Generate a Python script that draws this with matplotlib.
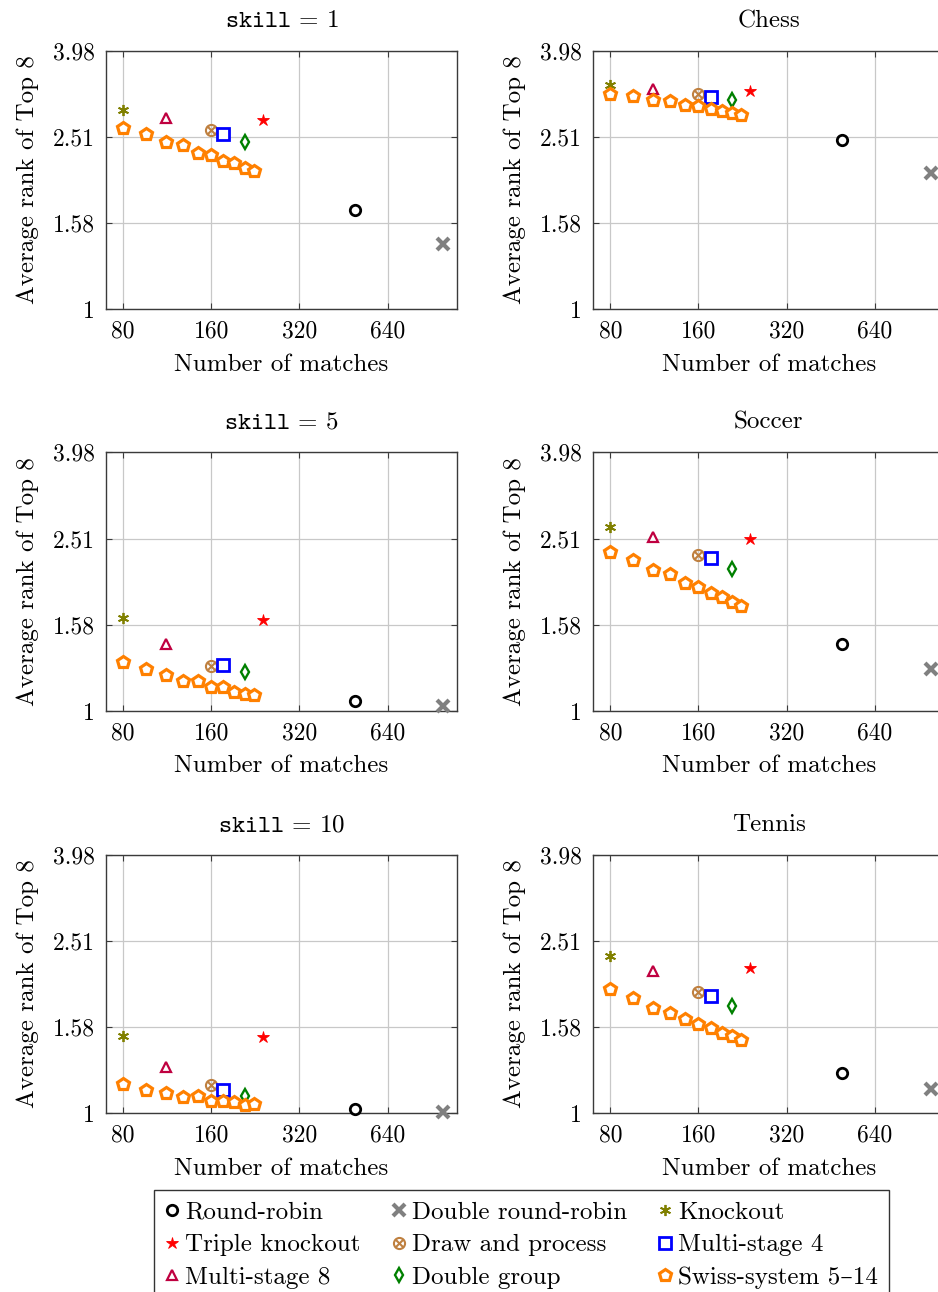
import matplotlib
matplotlib.use("Agg")
import matplotlib.pyplot as plt
from matplotlib.path import Path
import numpy as np

plt.rcParams['font.family'] = ['cmr10', 'DejaVu Serif']
plt.rcParams['mathtext.fontset'] = 'cm'
plt.rcParams['axes.unicode_minus'] = False

# ---------------- data ----------------
titles = [r'$\mathtt{skill}\,=\,1$', 'Chess', r'$\mathtt{skill}\,=\,5$', 'Soccer',
          r'$\mathtt{skill}\,=\,10$', 'Tennis']

methods = ['Round-robin', 'Double round-robin', 'Knockout', 'Triple knockout',
           'Draw and process', 'Multi-stage 4', 'Multi-stage 8', 'Double group']
method_matches = [496, 992, 80, 240, 160, 176, 112, 208]

swiss_label = 'Swiss-system 5–14'
swiss_matches = [80, 96, 112, 128, 144, 160, 176, 192, 208, 224]

# values per panel, in order of `methods`
method_values = [
    [1.697, 1.420, 2.894, 2.744, 2.606, 2.546, 2.773, 2.440],   # skill = 1
    [2.466, 2.068, 3.308, 3.209, 3.152, 3.113, 3.249, 3.053],   # Chess
    [1.057, 1.027, 1.646, 1.625, 1.274, 1.281, 1.433, 1.232],   # skill = 5
    [1.428, 1.254, 2.672, 2.501, 2.305, 2.260, 2.528, 2.135],   # Soccer
    [1.023, 1.009, 1.515, 1.507, 1.165, 1.132, 1.282, 1.099],   # skill = 10
    [1.242, 1.137, 2.320, 2.176, 1.909, 1.868, 2.135, 1.772],   # Tennis
]
swiss_values = [
    [2.634, 2.546, 2.440, 2.401, 2.305, 2.285, 2.209, 2.181, 2.127, 2.094],
    [3.163, 3.119, 3.059, 3.043, 2.973, 2.963, 2.910, 2.890, 2.849, 2.829],
    [1.299, 1.249, 1.214, 1.176, 1.174, 1.137, 1.135, 1.107, 1.095, 1.089],
    [2.342, 2.244, 2.120, 2.078, 1.978, 1.943, 1.875, 1.842, 1.790, 1.752],
    [1.171, 1.134, 1.114, 1.093, 1.095, 1.068, 1.068, 1.062, 1.047, 1.051],
    [1.946, 1.855, 1.759, 1.713, 1.653, 1.609, 1.576, 1.537, 1.512, 1.478],
]

xticks = [80, 160, 320, 640]
xtick_labels = ['80', '160', '320', '640']
yticks = [10 ** 0.0, 10 ** 0.2, 10 ** 0.4, 10 ** 0.6]
ytick_labels = ['1', '1.58', '2.51', '3.98']

# ---------------- styles ----------------
olive = (0.5, 0.5, 0.0)
brown = (0.75, 0.5, 0.25)
purple = (0.75, 0.0, 0.25)
green = (0.0, 0.5, 0.0)
orange = (1.0, 0.5, 0.0)
gray = (0.5, 0.5, 0.5)

# circle with a cross inside (otimes)
_d = 0.7071
otimes = Path.make_compound_path(
    Path.unit_circle(),
    Path([[-_d, -_d], [_d, _d]], [Path.MOVETO, Path.LINETO]),
    Path([[-_d, _d], [_d, -_d]], [Path.MOVETO, Path.LINETO]),
)

styles = [
    dict(marker='o', color='black', mfc='white', ms=7.5, mew=2.0),
    dict(marker='x', color=gray, ms=9, mew=3.0),
    dict(marker=(6, 2, 0), color=olive, ms=8, mew=1.3),
    dict(marker='*', color='red', mfc='red', ms=9, mew=0.6),
    dict(marker=otimes, color=brown, mfc='none', ms=8, mew=1.5),
    dict(marker='s', color='blue', mfc='white', ms=8.5, mew=2.0),
    dict(marker='^', color=purple, mfc='white', ms=7.5, mew=1.6),
    dict(marker='d', color=green, mfc='white', ms=7.5, mew=1.7),
]
swiss_style = dict(marker='p', color=orange, mfc='white', ms=9, mew=2.3)

W, H = 938, 1292
fig = plt.figure(figsize=(W / 100, H / 100), dpi=100)

col_left = [106 / W, 593.3 / W]
ax_w = 351 / W
ax_h = 258.6 / H
row_bottom = [1 - 309.3 / H, 1 - 711.0 / H, 1 - 1113.3 / H]

frame_col = '#3a3a3a'
handles = None
for i in range(6):
    r, c = divmod(i, 2)
    ax = fig.add_axes([col_left[c], row_bottom[r], ax_w, ax_h])
    ax.set_xscale('log')
    ax.set_yscale('log')
    ax.set_xlim(70, 1105)
    ax.set_ylim(1, 10 ** 0.6)
    hs = []
    for m, name in enumerate(methods):
        h, = ax.plot([method_matches[m]], [method_values[i][m]], linestyle='none',
                     label=name, clip_on=False, zorder=3, **styles[m])
        hs.append(h)
    h, = ax.plot(swiss_matches, swiss_values[i], linestyle='none', label=swiss_label,
                 clip_on=False, zorder=3, **swiss_style)
    hs.append(h)
    if handles is None:
        handles = hs

    ax.xaxis.set_minor_locator(matplotlib.ticker.NullLocator())
    ax.yaxis.set_minor_locator(matplotlib.ticker.NullLocator())
    ax.set_xticks(xticks)
    ax.set_xticklabels(xtick_labels)
    ax.set_yticks(yticks)
    ax.set_yticklabels(ytick_labels)
    ax.tick_params(direction='in', length=4, width=0.8, color=frame_col,
                   top=True, right=True, labelsize=17, pad=8)
    ax.grid(True, color='#c8c8c8', linewidth=0.9)
    ax.set_axisbelow(True)
    for s in ax.spines.values():
        s.set_color(frame_col)
        s.set_linewidth(1.0)
    ax.set_xlabel('Number of matches', fontsize=18, labelpad=8)
    ax.set_ylabel('Average rank of Top 8', fontsize=18, labelpad=10)
    ax.set_title(titles[i], fontsize=18, pad=17)

# legend order: row-wise in 3 columns
order = [0, 3, 6, 1, 4, 7, 2, 5, 8]
labels = methods + [swiss_label]
leg = fig.legend([handles[k] for k in order], [labels[k] for k in order],
                 ncol=3, loc='upper left', bbox_to_anchor=(154 / W, 1 - 1190 / H),
                 fontsize=18, frameon=True, fancybox=False, edgecolor='black',
                 handlelength=0.55, handletextpad=0.25, columnspacing=1.25,
                 borderpad=0.45, labelspacing=0.4, borderaxespad=0.0)
leg.get_frame().set_linewidth(1.0)

fig.savefig('out.png', dpi=100)
